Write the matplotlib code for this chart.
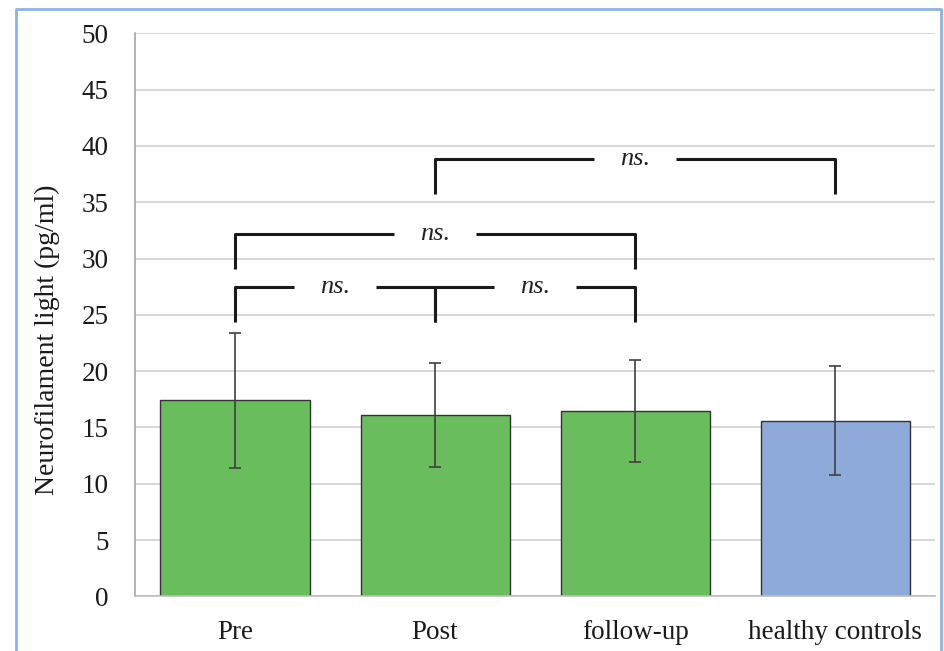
import matplotlib.pyplot as plt
from matplotlib.lines import Line2D

# data
groups = ['Pre', 'Post', 'follow-up', 'healthy controls']
means = [17.4, 16.1, 16.45, 15.6]
errors = [6.0, 4.65, 4.55, 4.85]
colors = ['#6abd5c', '#6abd5c', '#6abd5c', '#8eaadb']

# significance brackets: (from group, to group, line level, leg bottom)
bracket_from = [0, 1, 0, 1]
bracket_to = [1, 2, 2, 3]
bracket_top = [27.5, 27.5, 32.2, 38.8]
bracket_bottom = [24.4, 24.4, 29.1, 35.7]
bracket_text = ['ns.', 'ns.', 'ns.', 'ns.']

plt.rcParams['font.family'] = ['Liberation Serif', 'DejaVu Serif']

fig = plt.figure(figsize=(9.44, 6.51), dpi=100)
ax = fig.add_axes([0.143, 0.084, 0.8475, 0.8648])

x = list(range(len(groups)))
ax.bar(x, means, width=0.745, color=colors, edgecolor='#333333', linewidth=1.0, zorder=2)
ax.errorbar(x, means, yerr=errors, fmt='none', ecolor='#404040', elinewidth=1.2,
            capsize=4, capthick=1.2, zorder=3)

gap = 0.205
for a, b, top, bot, txt in zip(bracket_from, bracket_to, bracket_top, bracket_bottom, bracket_text):
    mid = (a + b) / 2
    kw = dict(color='#1a1a1a', lw=2.2, solid_capstyle='butt', zorder=4)
    ax.plot([a, a, mid - gap], [bot, top, top], **kw)
    ax.plot([mid + gap, b, b], [top, top, bot], **kw)
    ax.text(mid, top, txt, ha='center', va='center', fontsize=19, style='italic',
            color='#222222', zorder=5)

ax.set_xlim(-0.5, 3.5)
ax.set_ylim(0, 50)
ax.set_yticks(range(0, 51, 5))
ax.set_xticks(x)
ax.set_xticklabels(groups)
ax.tick_params(axis='both', length=0, labelsize=19.5, colors='#1a1a1a')
ax.tick_params(axis='y', pad=19)
ax.tick_params(axis='x', pad=17)
ax.yaxis.grid(True, color='#d9d9d9', lw=1.5, zorder=0)
ax.set_axisbelow(True)
for s in ['top', 'right']:
    ax.spines[s].set_visible(False)
ax.spines['left'].set_color('#a6a6a6')
ax.spines['bottom'].set_color('#bfbfbf')
ax.spines['left'].set_linewidth(1.2)
ax.spines['bottom'].set_linewidth(1.2)
ax.set_ylabel('Neurofilament light (pg/ml)', fontsize=20, color='#1a1a1a')
ax.yaxis.set_label_coords(-0.094, 0.456)

# light blue frame around the picture
W, H = 944, 651
fx = [16 / W, 16 / W, 941 / W, 941 / W]
fy = [0, 1 - 9 / H, 1 - 9 / H, 0]
fig.add_artist(Line2D(fx, fy, transform=fig.transFigure, color='#8db3e2', lw=2.0))

fig.savefig('out.png', dpi=100)
